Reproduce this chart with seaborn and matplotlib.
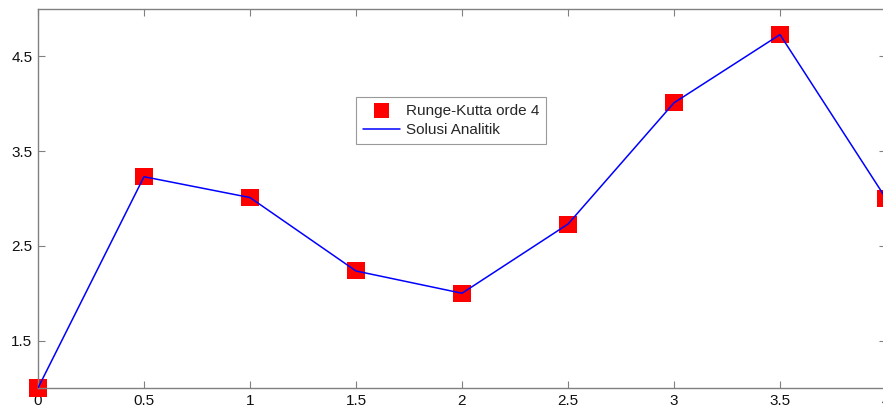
import matplotlib
matplotlib.use("Agg")
import matplotlib.pyplot as plt
import seaborn as sns
import pandas as pd

x_vals = [0, 0.5, 1, 1.5, 2, 2.5, 3, 3.5, 4]
rk4_vals = [1.0, 3.23, 3.01, 2.235, 2.0, 2.73, 4.01, 4.73, 3.0]
exact_vals = [1.0, 3.23, 3.01, 2.235, 2.0, 2.73, 4.01, 4.73, 3.0]
xticks = [0, 0.5, 1, 1.5, 2, 2.5, 3, 3.5, 4]
xtick_labels = ["0", "0.5", "1", "1.5", "2", "2.5", "3", "3.5", "4"]
yticks = [1.5, 2.5, 3.5, 4.5]
ytick_labels = ["1.5", "2.5", "3.5", "4.5"]

sns.set_style("white")
plt.rcParams['font.family'] = ['Liberation Sans', 'DejaVu Sans']

df = pd.DataFrame({"x": x_vals, "rk4": rk4_vals, "exact": exact_vals})

fig = plt.figure(figsize=(8.83, 4.08), dpi=100)
ax = fig.add_axes([38/883, 20/408, 848/883, 379/408])

sns.scatterplot(data=df, x="x", y="rk4", marker="s", s=150, color="#ff0000",
                edgecolor="none", linewidth=0, ax=ax, label="Runge-Kutta orde 4",
                zorder=2, clip_on=False)
sns.lineplot(data=df, x="x", y="exact", color="#0000ff", linewidth=1.1, ax=ax,
             label="Solusi Analitik", zorder=3)

ax.set_xlim(0, 4)
ax.set_ylim(1, 5)
ax.set_xticks(xticks)
ax.set_xticklabels(xtick_labels)
ax.set_yticks(yticks)
ax.set_yticklabels(ytick_labels)
ax.set_xlabel("")
ax.set_ylabel("")
ax.tick_params(direction="in", length=5, width=0.8, color="#808080",
               labelsize=11, labelcolor="#111111", top=True, right=True,
               bottom=True, left=True, pad=4)
for sp in ax.spines.values():
    sp.set_visible(True)
    sp.set_color("#808080")
    sp.set_linewidth(1.0)

leg = ax.legend(loc="upper left", bbox_to_anchor=(0.375, 0.768), borderaxespad=0,
                frameon=True, fancybox=False, edgecolor="#808080", fontsize=11,
                handlelength=2.4, handletextpad=0.4, borderpad=0.45, labelspacing=0.35,
                markerscale=0.9)
leg.get_frame().set_linewidth(0.8)

fig.savefig("out.png", dpi=100)
